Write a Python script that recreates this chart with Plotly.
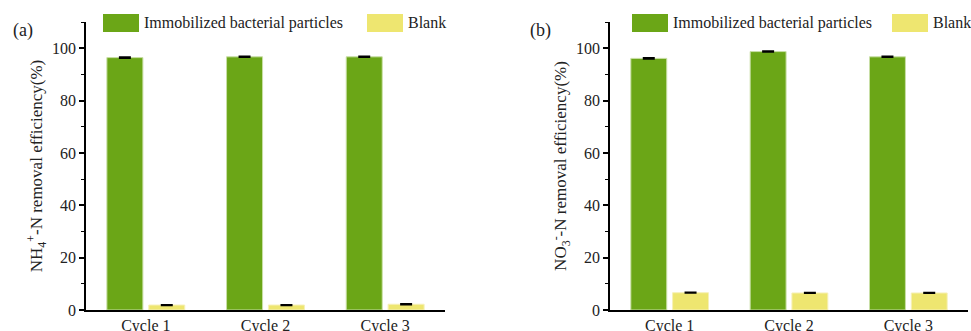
import plotly.graph_objects as go

# Data
cycles = ["Cycle 1", "Cycle 2", "Cycle 3"]
nh4_immobilized = [96.4, 96.7, 96.7]
nh4_immobilized_err = [0.25, 0.2, 0.2]
nh4_blank = [1.9, 1.9, 2.2]
nh4_blank_err = [0.15, 0.15, 0.15]
no3_immobilized = [96.1, 98.7, 96.7]
no3_immobilized_err = [0.25, 0.2, 0.2]
no3_blank = [6.6, 6.5, 6.5]
no3_blank_err = [0.15, 0.15, 0.15]
y_ticks = [0, 20, 40, 60, 80, 100]

GREEN = "#6BA617"
YELLOW = "#EEE670"
FONT = "Liberation Serif, Times New Roman, serif"

fig = go.Figure()

def add_pair(xa, ya, green, green_err, blank, blank_err):
    fig.add_trace(go.Bar(
        x=cycles, y=green, xaxis=xa, yaxis=ya, marker_color=GREEN,
        marker_line=dict(color="#C9DFA6", width=1),
        error_y=dict(type="data", array=green_err, color="black", thickness=1.5, width=6),
        showlegend=False))
    fig.add_trace(go.Bar(
        x=cycles, y=blank, xaxis=xa, yaxis=ya, marker_color=YELLOW,
        marker_line=dict(color="#F6F0B8", width=1),
        error_y=dict(type="data", array=blank_err, color="black", thickness=1.5, width=6),
        showlegend=False))

add_pair("x", "y", nh4_immobilized, nh4_immobilized_err, nh4_blank, nh4_blank_err)
add_pair("x2", "y2", no3_immobilized, no3_immobilized_err, no3_blank, no3_blank_err)

axis_common = dict(showline=True, linecolor="black", linewidth=1.5, showgrid=False,
                   zeroline=False, automargin=False,
                   tickfont=dict(family=FONT, size=16, color="#222"))
yaxis_common = dict(axis_common, range=[0, 110], tickvals=y_ticks, ticks="outside",
                    ticklen=5, tickwidth=1.5, tickcolor="black",
                    minor=dict(tickvals=[10, 30, 50, 70, 90, 110], ticks="outside",
                               ticklen=3, tickwidth=1.2, tickcolor="black"))
xaxis_common = dict(axis_common, ticks="", range=[-0.5, 2.5],
                    tickfont=dict(family=FONT, size=16, color="#222"))

ydom = [21 / 331, 309 / 331]
fig.update_layout(
    width=971, height=331, margin=dict(l=0, r=0, t=0, b=0),
    plot_bgcolor="white", paper_bgcolor="white",
    barmode="group", bargap=0.30, bargroupgap=0.14,
    xaxis=dict(xaxis_common, domain=[86 / 971, 445 / 971], anchor="y"),
    yaxis=dict(yaxis_common, domain=ydom, anchor="x",
               title=dict(text="NH<sub>4</sub><sup>+</sup>-N removal efficiency(%)",
                          font=dict(family=FONT, size=17, color="#222"), standoff=5)),
    xaxis2=dict(xaxis_common, domain=[610 / 971, 968 / 971], anchor="y2"),
    yaxis2=dict(yaxis_common, domain=ydom, anchor="x2",
                title=dict(text="NO<sub>3</sub><sup>-</sup>-N removal efficiency(%)",
                           font=dict(family=FONT, size=17, color="#222"), standoff=5)),
    showlegend=False,
)

# Panel labels and legend blocks
legend_items = [
    ("x", "y", 103, 367, "(a)", 11),
    ("x2", "y2", 632, 892, "(b)", 528),
]
for xa, ya, gx, bx, label, lx in legend_items:
    for sx, color, text in [(gx, GREEN, "Immobilized bacterial particles"), (bx, YELLOW, "Blank")]:
        fig.add_shape(type="rect", xref="paper", yref="paper",
                      x0=sx / 971, x1=(sx + 36) / 971, y0=1 - 32 / 331, y1=1 - 14 / 331,
                      fillcolor=color, line=dict(width=0))
        fig.add_annotation(text=text, xref="paper", yref="paper", x=(sx + 39) / 971,
                           y=1 - 23 / 331, xanchor="left", yanchor="middle", showarrow=False,
                           font=dict(family=FONT, size=16, color="#222"))
    fig.add_annotation(text=label, xref="paper", yref="paper", x=lx / 971, y=1 - 30 / 331,
                       xanchor="left", yanchor="middle", showarrow=False,
                       font=dict(family=FONT, size=18, color="#222"))

fig.write_html("out.html")
